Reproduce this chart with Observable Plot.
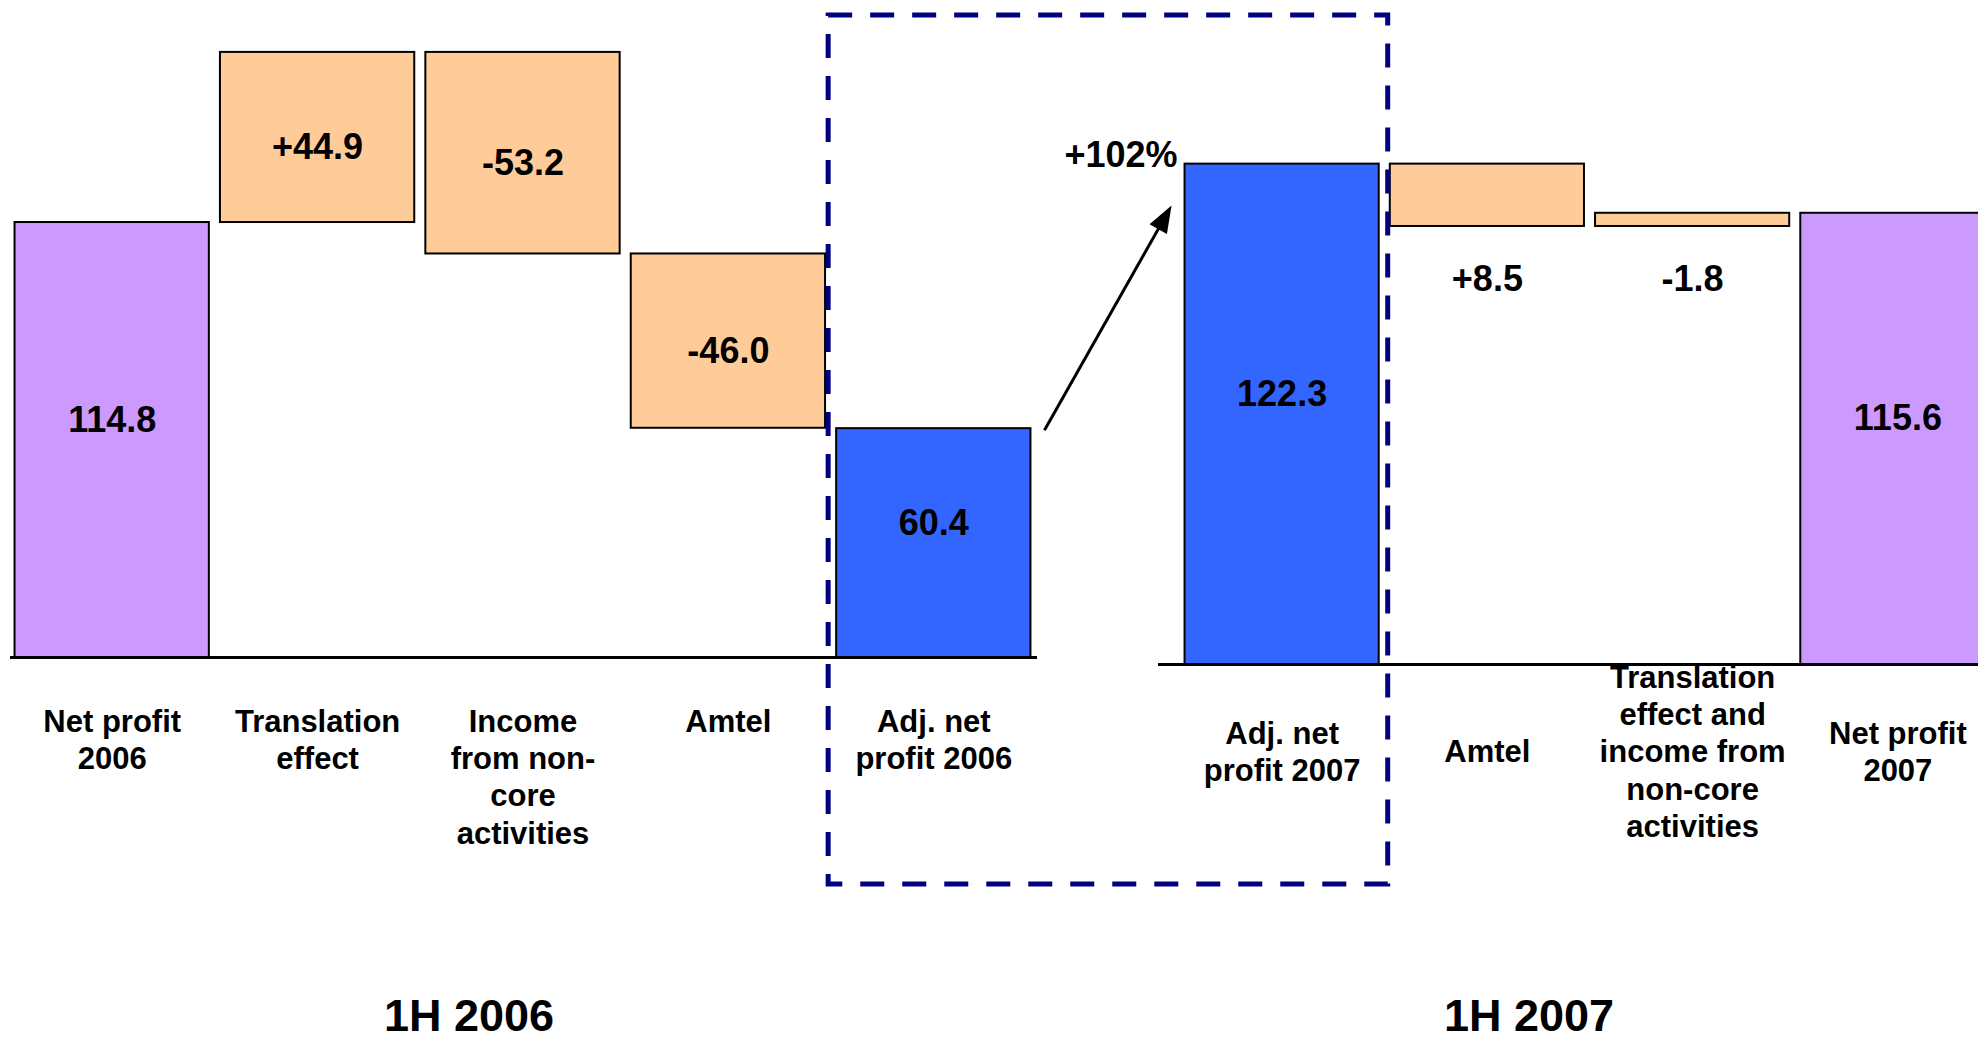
<!DOCTYPE html>
<html>
<head>
<meta charset="utf-8">
<script src="https://cdn.jsdelivr.net/npm/d3@7"></script>
<script src="https://cdn.jsdelivr.net/npm/@observablehq/plot@0.6"></script>
<style>
  html, body { margin: 0; padding: 0; background: #ffffff; }
  #chart { position: relative; width: 1978px; height: 1041px; overflow: hidden; background: #ffffff;
           font-family: "Liberation Sans", Arial, sans-serif; }
  #chart > svg { position: absolute !important; left: 0; top: 0; max-width: none !important; background: transparent !important; overflow: visible; }
</style>
</head>
<body>
<div id="chart"></div>
<script>
// ---------- data ----------
const leftCategories = ["Net profit 2006", "Translation effect", "Income from non-core activities", "Amtel", "Adj. net profit 2006"];
const leftTickLabels = ["Net profit\n2006", "Translation\neffect", "Income\nfrom non-\ncore\nactivities", "Amtel", "Adj. net\nprofit 2006"];
const leftValues = [114.8, 44.9, -53.2, -46.0, 60.4];
const leftKinds = ["net", "change", "change", "change", "adjusted"];

const rightCategories = ["Adj. net profit 2007", "Amtel", "Translation effect and income from non-core activities", "Net profit 2007"];
const rightTickLabels = ["Adj. net\nprofit 2007", "Amtel", "Translation\neffect and\nincome from\nnon-core\nactivities", "Net profit\n2007"];
const rightValues = [122.3, 8.5, -1.8, 115.6];
const rightKinds = ["adjusted", "change", "change", "net"];

const groupLabels = ["1H 2006", "1H 2007"];
const growthLabel = "+102%";

// ---------- styles ----------
const FONT = "'Liberation Sans', Arial, sans-serif";
const kindColor = {net: "#CC99FF", change: "#FFCC99", adjusted: "#3366FF"};

function fmt(v, kind) {
  if (kind === "change") return (v > 0 ? "+" : "-") + Math.abs(v).toFixed(1);
  return v.toFixed(1);
}

// forward waterfall: start from first total, apply changes left -> right
function waterfallForward(cats, labels, values, kinds) {
  let run = 0;
  return cats.map((c, i) => {
    const v = values[i];
    let lo, hi;
    if (kinds[i] !== "change") { lo = 0; hi = v; run = v; }
    else { const nxt = run + v; lo = Math.min(run, nxt); hi = Math.max(run, nxt); run = nxt; }
    return {cat: c, label: labels[i], value: v, kind: kinds[i], lo, hi, text: fmt(v, kinds[i])};
  });
}
// backward waterfall: start from last total, apply changes right -> left
function waterfallBackward(cats, labels, values, kinds) {
  let run = 0;
  const rows = new Array(cats.length);
  for (let i = cats.length - 1; i >= 0; i--) {
    const v = values[i];
    let lo, hi;
    if (kinds[i] !== "change") { lo = 0; hi = v; run = v; }
    else { const nxt = run + v; lo = Math.min(run, nxt); hi = Math.max(run, nxt); run = nxt; }
    rows[i] = {cat: cats[i], label: labels[i], value: v, kind: kinds[i], lo, hi, text: fmt(v, kinds[i])};
  }
  return rows;
}

const leftRows = waterfallForward(leftCategories, leftTickLabels, leftValues, leftKinds);
const rightRows = waterfallBackward(rightCategories, rightTickLabels, rightValues, rightKinds);

function makePlot(rows, cats, cfg) {
  const dmin = cfg.y.domain[0];
  const yPix = d3.scaleLinear().domain(cfg.y.domain).range(cfg.y.range);
  const small = d => d.kind === "change" && (yPix(d.lo) - yPix(d.hi)) < 90;
  const mid = d => (Math.max(d.lo, dmin) + d.hi) / 2;
  return Plot.plot({
    width: cfg.width,
    height: 1041,
    marginLeft: cfg.marginLeft,
    marginRight: cfg.marginRight,
    marginTop: 0,
    marginBottom: 0,
    style: {background: "transparent", overflow: "visible", maxWidth: "none", fontFamily: FONT},
    x: {domain: cats, range: cfg.xRange, paddingInner: 0.054, paddingOuter: 0.027, round: false, axis: null},
    y: {...cfg.y, axis: null},
    color: {type: "identity"},
    marks: [
      Plot.barY(rows, {x: "cat", y1: d => Math.max(d.lo, dmin), y2: "hi",
        fill: d => kindColor[d.kind], stroke: "black", strokeWidth: 2}),
      Plot.ruleY([dmin], {stroke: "black", strokeWidth: 3}),
      // value labels inside bars
      Plot.text(rows.filter(d => d.kind !== "change"), {x: "cat", y: mid, text: "text",
        fontSize: 36, fontWeight: "bold", fill: "black", lineAnchor: "middle", dy: -20}),
      Plot.text(rows.filter(d => d.kind === "change" && !small(d)), {x: "cat", y: mid, text: "text",
        fontSize: 36, fontWeight: "bold", fill: "black", lineAnchor: "middle", dy: 10}),
      // value labels below thin bars
      Plot.text(rows.filter(small), {x: "cat", y: "lo", text: "text",
        fontSize: 36, fontWeight: "bold", fill: "black", lineAnchor: "middle", dy: 53}),
      // category labels
      Plot.text(rows, {x: "cat", y: () => dmin, text: "label", fontSize: 31, fontWeight: "bold",
        fill: "black", lineHeight: 1.2, lineAnchor: cfg.tickAnchor, dy: cfg.tickDy})
    ]
  });
}

const leftPlot = makePlot(leftRows, leftCategories, {
  width: 1978, marginLeft: 10, marginRight: 941, xRange: [9, 1036],
  y: {domain: [0, 173.4], range: [657, 0]}, tickAnchor: "top", tickDy: 48
});
const rightPlot = makePlot(rightRows, rightCategories, {
  width: 2010, marginLeft: 1158, marginRight: 0, xRange: [1179, 2000],
  y: {domain: [54.1, 144.6], range: [664, 0], clamp: true}, tickAnchor: "middle", tickDy: 86
});

const chart = document.getElementById("chart");
chart.appendChild(rightPlot);
chart.appendChild(leftPlot);

// ---------- overlay: highlight box, growth arrow, group captions ----------
const xL = leftPlot.scale("x"), yL = leftPlot.scale("y");
const xR = rightPlot.scale("x"), yR = rightPlot.scale("y");
const adj06 = leftRows.find(d => d.kind === "adjusted");
const adj07 = rightRows.find(d => d.kind === "adjusted");
const x06 = xL.apply(adj06.cat), x07 = xR.apply(adj07.cat);

const ov = d3.select(chart).append("svg")
  .attr("width", 1978).attr("height", 1041)
  .style("font-family", FONT);

const boxX1 = x06 - 8, boxX2 = x07 + xR.bandwidth + 9;
ov.append("rect")
  .attr("x", boxX1).attr("y", 15)
  .attr("width", boxX2 - boxX1).attr("height", 884 - 15)
  .attr("fill", "none").attr("stroke", "#000080").attr("stroke-width", 5)
  .attr("stroke-dasharray", "24 18");

const tail = [x06 + xL.bandwidth + 14, yL.apply(adj06.value) + 2];
const tip = [x07 - 13, yR.apply(adj07.value) + 42];
const dx = tip[0] - tail[0], dy = tip[1] - tail[1];
const len = Math.hypot(dx, dy), ux = dx / len, uy = dy / len, px = -uy, py = ux;
ov.append("line")
  .attr("x1", tail[0]).attr("y1", tail[1])
  .attr("x2", tip[0] - ux * 20).attr("y2", tip[1] - uy * 20)
  .attr("stroke", "black").attr("stroke-width", 3);
ov.append("polygon")
  .attr("points", [
    [tip[0], tip[1]],
    [tip[0] - ux * 27 + px * 10, tip[1] - uy * 27 + py * 10],
    [tip[0] - ux * 27 - px * 10, tip[1] - uy * 27 - py * 10]
  ].map(p => p.join(",")).join(" "))
  .attr("fill", "black");

ov.append("text")
  .attr("x", x07 - 7).attr("y", yR.apply(adj07.value) + 3)
  .attr("text-anchor", "end").attr("font-size", 36).attr("font-weight", "bold")
  .text(growthLabel);

ov.selectAll("text.group").data(groupLabels).join("text")
  .attr("class", "group")
  .attr("x", (d, i) => [469, 1529][i]).attr("y", 1031)
  .attr("text-anchor", "middle").attr("font-size", 45).attr("font-weight", "bold")
  .text(d => d);
</script>
</body>
</html>
